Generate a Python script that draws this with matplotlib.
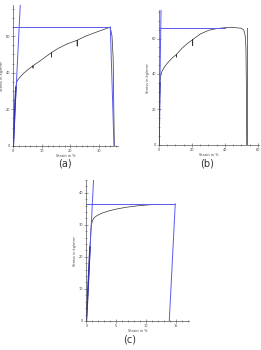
import matplotlib
matplotlib.use("Agg")
import matplotlib.pyplot as plt
from matplotlib.ticker import MultipleLocator

# stress-strain curves (strain in %, stress in kg/mm2)
strain_a = [0, 0.3, 0.6, 0.9, 1.3, 2.3, 3.5, 5, 6.9, 6.9, 6.9, 9, 11, 13.4, 13.4, 13.4,
            16, 19, 22.4, 22.4, 22.4, 25, 28, 31, 33, 34, 34.6, 35.0, 35.2, 35.4]
stress_a = [0, 11, 23, 32, 35.5, 37.5, 39.5, 41.5, 43.8, 42.5, 43.8, 46, 48.3, 51, 48.5, 51,
            53.5, 55.8, 57.7, 54.5, 57.7, 59.7, 61.5, 63.2, 64.3, 64.8, 60, 48, 25, 0]

strain_b = [0, 0.2, 0.4, 0.6, 1.0, 1.6, 3, 5, 8, 10.6, 10.6, 10.6, 14, 17, 20.5, 20.5, 20.5,
            25, 30, 35, 40, 45, 50, 51.5, 52.3, 52.8, 53.1, 53.3]
stress_b = [0, 12, 26, 35, 38.5, 41, 43.5, 46, 49, 51, 49.5, 51, 54.5, 57, 59.4, 56, 59.4,
            62.5, 64.6, 65.6, 66.1, 66.2, 65.8, 64.8, 62, 55, 30, 0]

strain_c = [0, 0.2, 0.4, 0.6, 0.8, 1.0, 1.3, 1.8, 2.7, 3.9, 5.3, 6.8, 8.5, 10.3, 12.2]
stress_c = [0, 7, 15, 23, 29.5, 31.2, 32.2, 32.9, 33.7, 34.4, 35.0, 35.5, 35.9, 36.2, 36.4]

# fitted construction lines: elastic slope, plateau level, drop to the foot
elastic_a = ([0, 2.5], [0, 79])
plateau_a = ([0, 34], [65, 65])
drop_a = ([34, 35.3], [65, 0])

elastic_b = ([0, 1.3], [0, 78])
plateau_b = ([0, 40], [66.2, 66.2])
drop_b = ([53.3, 53.3], [66.2, 0])

elastic_c = ([0, 1.2], [0, 44])
plateau_c = ([0, 14.9], [36.5, 36.5])
drop_c = ([14.9, 13.9], [36.5, 0])

fig = plt.figure(figsize=(2.61, 3.5), dpi=100)
blue = "#5a5aee"
dark = "#333333"


def panel(rect, sx, sy, lines, xlim, ylim, xmaj, xmin, ymaj, ymin, cap, capxy):
    ax = fig.add_axes(rect)
    ax.plot(sx, sy, color=dark, lw=0.5)
    for lx, ly in lines:
        ax.plot(lx, ly, color=blue, lw=0.7)
    ax.plot(sx[:4], sy[:4], color="#3030b0", lw=1.1)
    ax.set_xlim(xlim)
    ax.set_ylim(ylim)
    ax.spines["top"].set_visible(False)
    ax.spines["right"].set_visible(False)
    for s in ("left", "bottom"):
        ax.spines[s].set_linewidth(0.5)
        ax.spines[s].set_color("#555555")
    ax.xaxis.set_major_locator(MultipleLocator(xmaj))
    ax.xaxis.set_minor_locator(MultipleLocator(xmin))
    ax.yaxis.set_major_locator(MultipleLocator(ymaj))
    ax.yaxis.set_minor_locator(MultipleLocator(ymin))
    ax.tick_params(which="both", direction="inout", width=0.4, color="#555555",
                   labelsize=2.5, pad=1, labelcolor="#444444")
    ax.tick_params(which="major", length=2.5)
    ax.tick_params(which="minor", length=1.5)
    ax.set_xlabel("Strain in %", fontsize=2.5, labelpad=1, color="#444444")
    ax.set_ylabel("Stress in kg/mm²", fontsize=2.5, labelpad=1, color="#444444")
    fig.text(capxy[0], capxy[1], cap, fontsize=7, ha="center", va="center", color="#333333")
    return ax


panel([0.051, 0.583, 0.40, 0.403], strain_a, stress_a, [elastic_a, plateau_a, drop_a],
      (0, 36.6), (0, 77), 10, 2, 20, 5, "(a)", (65 / 261, 1 - 163 / 350))
panel([0.609, 0.586, 0.385, 0.385], strain_b, stress_b, [elastic_b, plateau_b, drop_b],
      (0, 61), (0, 76), 20, 5, 20, 5, "(b)", (207 / 261, 1 - 163 / 350))
panel([0.331, 0.083, 0.393, 0.403], strain_c, stress_c, [elastic_c, plateau_c, drop_c],
      (0, 17.2), (0, 44), 5, 1, 10, 2, "(c)", (130 / 261, 1 - 339 / 350))

fig.savefig("out.png", dpi=100)
